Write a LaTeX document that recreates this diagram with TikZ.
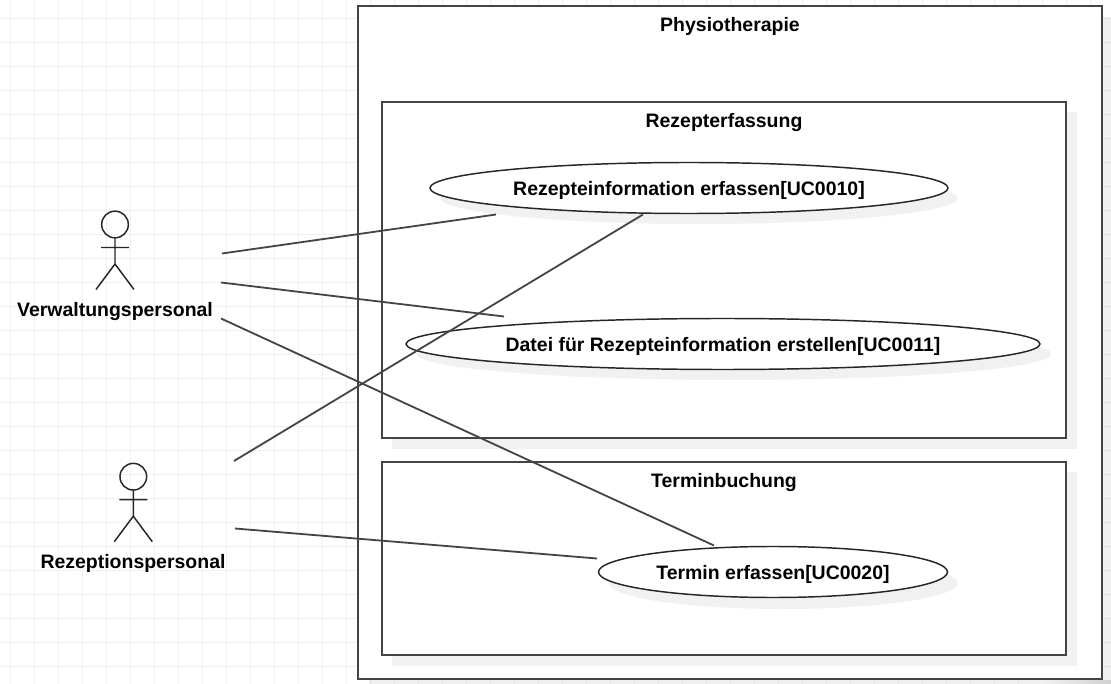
\documentclass[tikz,border=0pt]{standalone}
\usepackage{fontspec}
\setmainfont{Liberation Sans}
\usetikzlibrary{positioning,shapes.geometric}
\definecolor{linegray}{HTML}{444444}
\definecolor{shadegray}{HTML}{F1F1F1}
\definecolor{gridgray}{HTML}{F0F0F0}
\tikzset{
	usecase/.style={ellipse, draw=black!85, fill=white, line width=1.1pt, inner sep=0pt, text depth=0pt, font=\bfseries\fontsize{14.6}{16}\selectfont},
	caption/.style={font=\bfseries\fontsize{14.6}{16}\selectfont, inner sep=0pt},
	assoc/.style={draw=linegray, line width=1.35pt}
}
\newcommand{\actorfig}[2]{
	\draw[black!85, line width=1.1pt] (#1,#2) circle (10pt)
		(#1,#2+13.5) -- (#1,#2+39.5)
		(#1-14,#2+23) -- (#1+14,#2+23)
		(#1-19,#2+65) -- (#1,#2+39.5) -- (#1+19,#2+65);
}
\begin{document}
\begin{tikzpicture}[x=0.75pt, y=-0.75pt]
	\useasboundingbox (0,0) rectangle (1111,684);
	\fill[white] (0,0) rectangle (1111,684);
	% grid
	\foreach \gx in {10.5,34.5,...,1111}
		\draw[gridgray, line width=0.75pt] (\gx,0) -- (\gx,684);
	\foreach \gy in {18.5,42.5,...,684}
		\draw[gridgray, line width=0.75pt] (0,\gy) -- (1111,\gy);
	% outer box
	\fill[black, opacity=0.06] (369,17) rectangle (1111,684);
	\shade[left color=shadegray, right color=black!18] (1040,680) rectangle (1111,684);
	\draw[linegray, line width=2pt, fill=white] (358,6) rectangle (1102,679);
	\node[caption] (phys) at (730,26) {Physiotherapie};
	% inner boxes
	\fill[shadegray] (392,112) rectangle (1077,449);
	\draw[linegray, line width=1.6pt, fill=white] (382,102) rectangle (1066,438);
	\node[caption] (rez) at (724,122.7) {Rezepterfassung};
	\fill[shadegray] (392,472) rectangle (1077,666);
	\draw[linegray, line width=1.6pt, fill=white] (382,462) rectangle (1066,655);
	\node[caption] (term) at (724,483) {Terminbuchung};
	% ellipses
	\fill[shadegray] (699,198) ellipse (194pt and 19.5pt);
	\fill[shadegray] (734,354) ellipse (238pt and 19.5pt);
	\fill[shadegray] (783,583) ellipse (131pt and 19.5pt);
	\node[usecase, minimum width=518*0.75pt, minimum height=51*0.75pt] (uca) at (689,188) {Rezepteinformation erfassen[UC0010]};
	\node[usecase, minimum width=634*0.75pt, minimum height=51*0.75pt] (ucb) at (723,344) {Datei für Rezepteinformation erstellen[UC0011]};
	\node[usecase, minimum width=349*0.75pt, minimum height=51*0.75pt] (ucc) at (773,572) {Termin erfassen[UC0020]};
	% actors
	\actorfig{115}{224.5}
	\actorfig{133.3}{476.7}
	\node[caption] (verw) at (115,311.5) {Verwaltungspersonal};
	\node[caption] (rezp) at (133,563.5) {Rezeptionspersonal};
	% connectors
	\coordinate (v1) at (222,253.5);
	\coordinate (v2) at (221,282.5);
	\coordinate (v3) at (221,318.5);
	\coordinate (r1) at (234,461);
	\coordinate (r2) at (235,528.5);
	\coordinate (a1) at (496,214.5);
	\coordinate (a2) at (643,214.5);
	\coordinate (b1) at (504,316.5);
	\coordinate (c1) at (714,545.5);
	\coordinate (c2) at (597,558.5);
	\foreach \from/\to in {v1/a1,v2/b1,v3/c1,r1/a2,r2/c2}
		\draw[assoc] (\from) -- (\to);
\end{tikzpicture}
\end{document}
